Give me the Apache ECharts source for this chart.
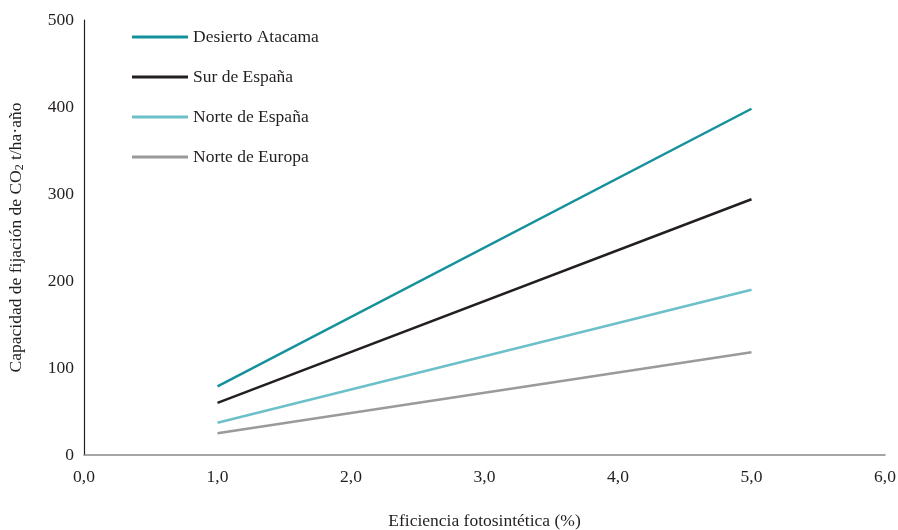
<!DOCTYPE html>
<html><head><meta charset="utf-8">
<script src="https://cdn.jsdelivr.net/npm/echarts@6/dist/echarts.min.js"></script>
<style>html,body{margin:0;padding:0;background:#fff}#c{width:898px;height:530px}</style>
</head><body><div id="c"></div>
<script>
const seriesNames = ['Desierto Atacama', 'Sur de España', 'Norte de España', 'Norte de Europa'];
const xValues = [1.0, 5.0];
const atacama = [79, 398];
const surEspana = [60, 294];
const norteEspana = [37, 190];
const norteEuropa = [25, 118];
const colors = ['#14919b', '#231f20', '#6cc0ca', '#9a999b'];
const allValues = [atacama, surEspana, norteEspana, norteEuropa];
const FONT = 'Liberation Serif';
const FS = 17.5;

const chart = echarts.init(document.getElementById('c'));
chart.setOption({
  animation: false,
  textStyle: { fontFamily: FONT },
  grid: { left: 84, right: 13, top: 20, bottom: 75, containLabel: false, outerBoundsMode: 'none' },
  legend: {
    orient: 'vertical', left: 127, top: 23,
    itemWidth: 56, itemHeight: 3, itemGap: 22, icon: 'rect',
    textStyle: { fontFamily: FONT, fontSize: FS, color: '#231f20' },
    data: seriesNames
  },
  xAxis: {
    type: 'value', min: 0, max: 6, interval: 1,
    name: 'Eficiencia fotosintética (%)', nameLocation: 'middle', nameGap: 57,
    nameTextStyle: { fontFamily: FONT, fontSize: FS, color: '#231f20' },
    axisLine: { lineStyle: { color: '#888', width: 1.5 } },
    axisTick: { show: false }, splitLine: { show: false },
    axisLabel: { fontFamily: FONT, fontSize: FS, color: '#231f20', margin: 13,
      formatter: v => v.toFixed(1).replace('.', ',') }
  },
  yAxis: {
    type: 'value', min: 0, max: 500, interval: 100,
    name: 'Capacidad de fijación de CO{s|2} t/ha·año', nameLocation: 'middle', nameGap: 58, nameRotate: 90,
    nameTextStyle: { fontFamily: FONT, fontSize: FS, color: '#231f20',
      rich: { s: { fontFamily: FONT, fontSize: 12, color: '#231f20', verticalAlign: 'bottom', padding: [7, 0, 0, 0] } } },
    axisLine: { show: true, lineStyle: { color: '#231f20', width: 1.2 } },
    axisTick: { show: false }, splitLine: { show: false },
    axisLabel: { fontFamily: FONT, fontSize: FS, color: '#231f20', margin: 10 }
  },
  series: seriesNames.map((n, i) => ({
    name: n, type: 'line', showSymbol: false, symbol: 'none',
    data: xValues.map((x, j) => [x, allValues[i][j]]),
    lineStyle: { color: colors[i], width: 2.5 }, itemStyle: { color: colors[i] }
  }))
});
</script></body></html>
